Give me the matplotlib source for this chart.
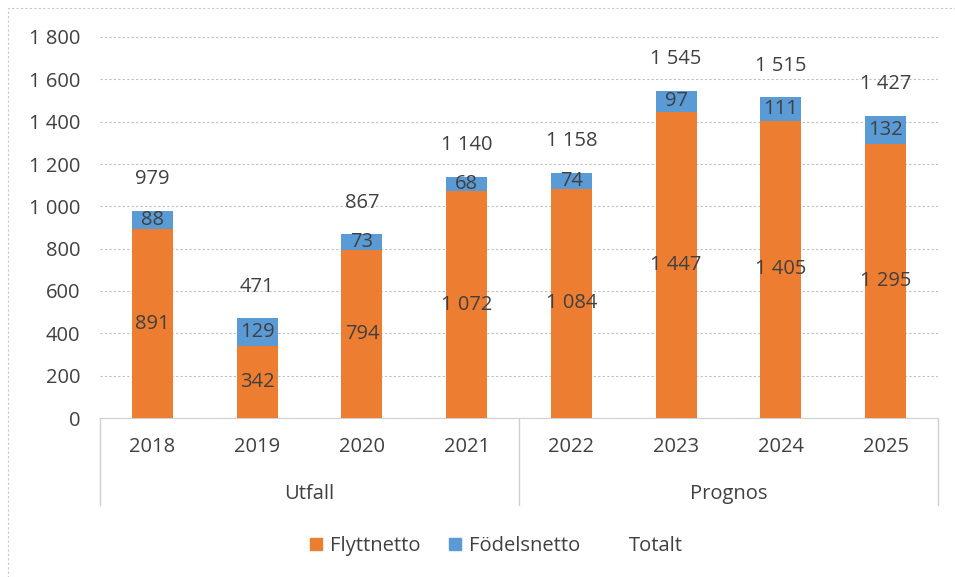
import matplotlib.pyplot as plt
import numpy as np
from matplotlib.patches import Rectangle
from matplotlib.lines import Line2D

# data
years = ['2018', '2019', '2020', '2021', '2022', '2023', '2024', '2025']
flyttnetto = [891, 342, 794, 1072, 1084, 1447, 1405, 1295]
fodelsnetto = [88, 129, 73, 68, 74, 97, 111, 132]
totalt = [979, 471, 867, 1140, 1158, 1545, 1515, 1427]
groups = ['Utfall', 'Prognos']

def sv(v):
    return f'{v:,}'.replace(',', ' ')

plt.rcParams['font.family'] = ['Open Sans', 'DejaVu Sans']
txt = '#404040'
orange = '#ED7D31'
blue = '#5B9BD5'
fs = 14.5

fig = plt.figure(figsize=(9.55, 5.77), dpi=100)
ax = fig.add_axes([100 / 955, 1 - 418 / 577, 838 / 955, 381 / 577])

x = np.arange(len(years))
w = 0.39
ax.bar(x, flyttnetto, w, color=orange, label='Flyttnetto', zorder=3)
ax.bar(x, fodelsnetto, w, bottom=flyttnetto, color=blue, label='Födelsnetto', zorder=3)

for i in range(len(years)):
    ax.text(x[i], flyttnetto[i] / 2, sv(flyttnetto[i]), ha='center', va='center', fontsize=fs, color=txt, zorder=4)
    ax.text(x[i], flyttnetto[i] + fodelsnetto[i] / 2, sv(fodelsnetto[i]), ha='center', va='center', fontsize=fs, color=txt, zorder=4)
    ax.text(x[i], totalt[i] + 150, sv(totalt[i]), ha='center', va='center', fontsize=fs, color=txt, zorder=4)

ax.set_xlim(-0.5, len(years) - 0.5)
ax.set_ylim(0, 1800)
ax.set_yticks(range(0, 1801, 200))
ax.set_yticklabels([sv(v) for v in range(0, 1801, 200)], fontsize=fs, color=txt)
ax.tick_params(axis='y', length=0, pad=14)
ax.set_xticks([])
ax.grid(axis='y', color='#BFBFBF', linestyle=(0, (2, 2)), linewidth=0.8, zorder=0)
for s in ['top', 'right', 'left']:
    ax.spines[s].set_visible(False)
ax.spines['bottom'].set_color('#D0D0D0')

# category labels below axis
for i, y in enumerate(years):
    ax.text(x[i], -0.077, y, transform=ax.get_xaxis_transform(), ha='center', va='center', fontsize=fs, color=txt)
ax.text(1.5, -0.2, groups[0], transform=ax.get_xaxis_transform(), ha='center', va='center', fontsize=fs, color=txt)
ax.text(5.5, -0.2, groups[1], transform=ax.get_xaxis_transform(), ha='center', va='center', fontsize=fs, color=txt)
for xv in [-0.5, 3.5, 7.5]:
    ax.plot([xv, xv], [0, -0.228], transform=ax.get_xaxis_transform(), color='#D0D0D0', lw=1, clip_on=False)

# legend
handles = [Rectangle((0, 0), 1, 1, color=orange), Rectangle((0, 0), 1, 1, color=blue), Line2D([], [], color='none')]
fig.legend(handles, ['Flyttnetto', 'Födelsnetto', 'Totalt'], loc='center', bbox_to_anchor=(0.52, 1 - 546 / 577),
           ncol=3, frameon=False, fontsize=fs, handlelength=0.6, handleheight=0.6, handletextpad=0.4,
           columnspacing=1.4, labelcolor=txt)

# chart border
fig.patches.append(Rectangle((8 / 955, -0.1), 1.2, 1.1 - 8 / 577, transform=fig.transFigure, fill=False,
                             edgecolor='#C8C8C8', linestyle=(0, (2, 2)), lw=0.8))

plt.savefig('out.png', dpi=100)
